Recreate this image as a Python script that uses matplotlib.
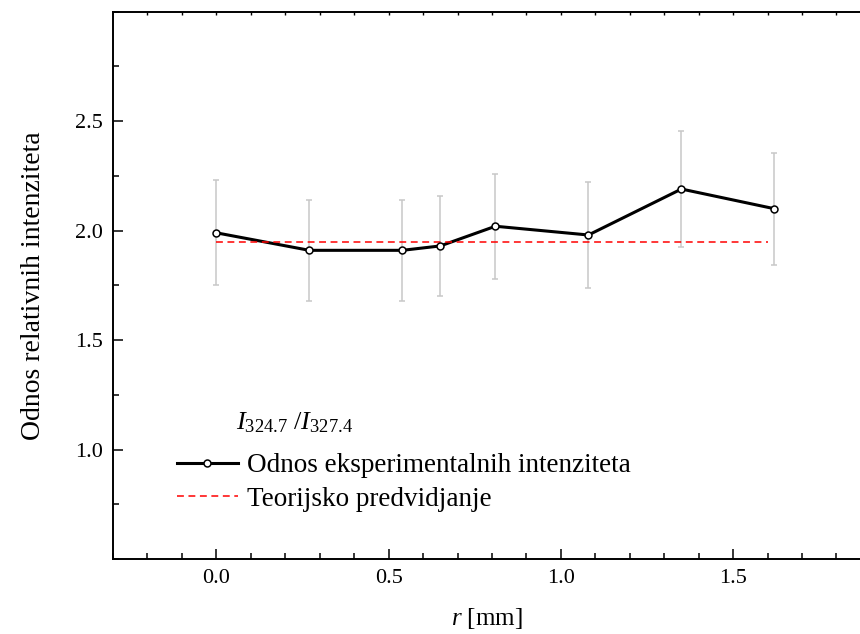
import matplotlib
matplotlib.use("Agg")
import matplotlib.pyplot as plt
import numpy as np
from matplotlib.lines import Line2D
from matplotlib.ticker import FixedLocator, MultipleLocator

plt.rcParams["font.family"] = ["Liberation Serif", "DejaVu Serif"]
plt.rcParams["mathtext.fontset"] = "custom"
plt.rcParams["mathtext.rm"] = "Liberation Serif"
plt.rcParams["mathtext.it"] = "Liberation Serif:italic"

# measured ratio I(324.7)/I(327.4) vs radial position
r_mm = [0.0, 0.27, 0.54, 0.65, 0.81, 1.08, 1.35, 1.62]
ratio = [1.99, 1.91, 1.91, 1.93, 2.02, 1.98, 2.19, 2.10]
ratio_err = [0.24, 0.23, 0.23, 0.23, 0.24, 0.24, 0.265, 0.255]

# theoretical prediction
theory_x = [0.0, 1.6]
theory_y = [1.95, 1.95]

legend_labels = ["Odnos eksperimentalnih intenziteta", "Teorijsko predvidjanje"]

W, H = 860, 634
fig = plt.figure(figsize=(W / 100, H / 100), dpi=100)
ax = fig.add_axes([113 / W, (H - 559) / H, (W - 113) / W, (559 - 11.7) / H])

ax.errorbar(r_mm, ratio, yerr=ratio_err, fmt="none", ecolor="#c8c8c8",
            elinewidth=1.1, capsize=2.2, capthick=1.1, zorder=1)
ax.plot(r_mm, ratio, color="black", lw=2.2, zorder=2)
ax.plot(theory_x, theory_y, color="red", lw=1.1, dashes=(4.5, 3), zorder=3)
ax.plot(r_mm, ratio, ls="none", marker="o", ms=5, mfc="white", mec="black",
        mew=1.1, zorder=4)

ax.set_xlim(-0.3, -0.3 + (W - 113) / 344.5)
ax.set_ylim(0.5, 3.0)

ax.xaxis.set_major_locator(FixedLocator([0.0, 0.5, 1.0, 1.5]))
ax.xaxis.set_minor_locator(MultipleLocator(0.1))
ax.yaxis.set_major_locator(FixedLocator([1.0, 1.5, 2.0, 2.5]))
ax.yaxis.set_minor_locator(MultipleLocator(0.25))
ax.set_xticklabels(["0.0", "0.5", "1.0", "1.5"])
ax.set_yticklabels(["1.0", "1.5", "2.0", "2.5"])

ax.tick_params(which="both", direction="in", width=1.1, labelsize=16,
               top=False, right=False)
ax.tick_params(which="major", length=7.5, pad=7)
ax.tick_params(which="minor", length=4)

ax.spines["right"].set_visible(False)
for s in ["left", "bottom", "top"]:
    ax.spines[s].set_linewidth(1.4)

top = ax.secondary_xaxis("top")
top.set_xticks(np.arange(-0.2, 1.85, 0.1))
top.tick_params(direction="in", length=2.5, width=1.0, labeltop=False)
top.spines["top"].set_visible(False)

ax.set_ylabel("Odnos relativnih intenziteta", fontsize=20, labelpad=21)
ax.set_xlabel(r"$r$ [mm]", fontsize=18, labelpad=13)

handles = [
    Line2D([], [], color="black", lw=2.2, marker="o", ms=5, mfc="white",
           mec="black", mew=1.1),
    Line2D([], [], color="red", lw=1.1, dashes=(4.5, 3)),
]
ax.legend(handles, legend_labels, loc="upper left", frameon=False,
          bbox_to_anchor=(177 / W, (H - 453) / H), bbox_transform=fig.transFigure,
          fontsize=19.5, borderpad=0, borderaxespad=0, handlelength=2.25,
          handletextpad=0.33, labelspacing=0.32, numpoints=1)

fig.text(236 / W, (H - 429) / H, r"$I_{324.7}$ /$I_{327.4}$", fontsize=19,
         va="baseline", ha="left")

fig.savefig("out.png", dpi=100)
